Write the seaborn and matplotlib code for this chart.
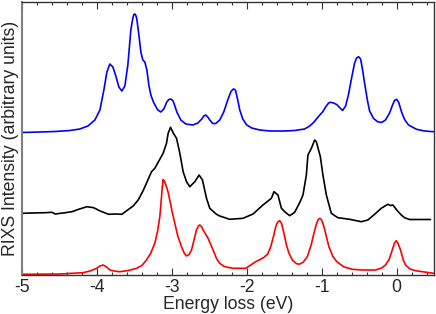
import matplotlib
matplotlib.use("Agg")
import matplotlib.pyplot as plt
import seaborn as sns
import pandas as pd
from matplotlib.ticker import MultipleLocator

# ---- data (arbitrary intensity units) ----
blue_x = [-5.000, -4.760, -4.560, -4.360, -4.227, -4.120, -4.027, -3.960, -3.907, -3.867,
          -3.827, -3.787, -3.747, -3.707, -3.667, -3.627, -3.587, -3.547, -3.520, -3.507,
          -3.493, -3.480, -3.467, -3.440, -3.413, -3.387, -3.360, -3.333, -3.307, -3.280,
          -3.240, -3.187, -3.147, -3.107, -3.067, -3.040, -3.013, -2.987, -2.973, -2.933,
          -2.880, -2.813, -2.720, -2.653, -2.600, -2.573, -2.547, -2.520, -2.493, -2.453,
          -2.413, -2.360, -2.307, -2.253, -2.213, -2.187, -2.173, -2.160, -2.147, -2.120,
          -2.093, -2.053, -2.000, -1.933, -1.827, -1.693, -1.493, -1.360, -1.227, -1.160,
          -1.107, -1.053, -1.013, -0.987, -0.947, -0.907, -0.880, -0.840, -0.800, -0.760,
          -0.720, -0.680, -0.640, -0.600, -0.560, -0.533, -0.507, -0.480, -0.453, -0.427,
          -0.387, -0.360, -0.307, -0.253, -0.200, -0.147, -0.093, -0.053, -0.027, 0.000,
          0.027, 0.067, 0.107, 0.160, 0.267, 0.373, 0.493]
blue_y = [142.5, 143.0, 143.5, 144.5, 146.0, 149.0, 155.0, 165.0, 185.0, 203.0,
          211.0, 208.0, 199.0, 188.0, 184.0, 189.0, 210.0, 245.0, 257.0, 260.5,
          261.0, 259.5, 256.0, 240.0, 223.0, 215.0, 213.0, 205.0, 190.0, 180.0,
          172.0, 165.0, 163.0, 166.0, 173.0, 175.5, 176.0, 174.5, 172.0, 163.0,
          155.0, 151.0, 150.0, 152.0, 156.0, 159.0, 160.0, 158.0, 155.0, 151.5,
          151.5, 155.0, 163.0, 175.0, 183.0, 185.5, 186.0, 185.5, 184.0, 175.0,
          165.0, 156.0, 150.0, 147.0, 145.0, 144.0, 144.0, 144.5, 146.0, 149.0,
          152.5, 157.5, 161.0, 163.0, 168.0, 172.0, 172.7, 172.0, 170.5, 167.5,
          164.5, 169.0, 181.0, 197.0, 212.0, 217.0, 218.3, 216.0, 205.0, 192.0,
          174.0, 164.0, 156.5, 153.3, 152.5, 155.0, 162.0, 170.0, 174.5, 175.7,
          173.0, 163.0, 155.5, 150.0, 145.7, 144.0, 143.3]

black_x = [-5.000, -4.867, -4.693, -4.600, -4.556, -4.423, -4.333, -4.244, -4.133, -4.044,
           -3.956, -3.844, -3.756, -3.667, -3.577, -3.516, -3.449, -3.383, -3.271, -3.227,
           -3.116, -3.071, -3.049, -3.017, -2.983, -2.937, -2.893, -2.849, -2.804, -2.760,
           -2.693, -2.636, -2.591, -2.537, -2.493, -2.404, -2.360, -2.227, -2.049, -1.916,
           -1.783, -1.671, -1.636, -1.583, -1.537, -1.493, -1.427, -1.360, -1.293, -1.249,
           -1.204, -1.183, -1.137, -1.093, -1.071, -1.017, -0.983, -0.937, -0.871, -0.783,
           -0.627, -0.471, -0.383, -0.293, -0.204, -0.116, -0.080, -0.049, 0.017, 0.063,
           0.107, 0.173, 0.453]
black_y = [61.7, 62.0, 62.3, 62.7, 61.0, 62.3, 63.3, 65.7, 68.3, 67.3,
           64.0, 60.7, 61.0, 60.7, 65.7, 69.0, 75.0, 84.3, 103.3, 106.7,
           121.7, 131.7, 141.7, 147.7, 142.3, 136.7, 121.7, 103.3, 93.3, 88.3,
           93.3, 100.0, 95.0, 76.7, 66.7, 60.7, 59.0, 55.7, 56.7, 61.0,
           70.0, 76.7, 83.3, 80.0, 66.7, 63.3, 59.3, 62.7, 72.3, 80.0,
           100.0, 120.0, 126.7, 135.0, 133.3, 118.3, 100.0, 80.0, 61.7, 57.3,
           55.7, 53.3, 55.0, 60.7, 66.7, 70.7, 69.5, 70.0, 63.7, 60.0,
           57.3, 55.5, 55.5]

red_x = [-5.000, -4.493, -4.183, -4.093, -4.040, -4.004, -3.960, -3.916, -3.870, -3.827,
         -3.760, -3.693, -3.580, -3.471, -3.400, -3.338, -3.280, -3.227, -3.190, -3.160,
         -3.140, -3.127, -3.116, -3.100, -3.085, -3.071, -3.050, -3.027, -2.995, -2.960,
         -2.920, -2.871, -2.835, -2.804, -2.770, -2.737, -2.700, -2.671, -2.645, -2.627,
         -2.605, -2.582, -2.550, -2.516, -2.449, -2.400, -2.360, -2.300, -2.191, -2.013,
         -1.880, -1.820, -1.769, -1.720, -1.680, -1.645, -1.613, -1.585, -1.560, -1.535,
         -1.503, -1.470, -1.436, -1.390, -1.340, -1.303, -1.250, -1.191, -1.140, -1.103,
         -1.070, -1.045, -1.023, -1.000, -0.969, -0.935, -0.903, -0.850, -0.800, -0.769,
         -0.700, -0.591, -0.450, -0.280, -0.200, -0.147, -0.100, -0.057, -0.030, -0.004,
         0.020, 0.053, 0.090, 0.120, 0.180, 0.253, 0.493]
red_y = [0.7, 1.0, 2.3, 4.0, 5.5, 6.7, 9.0, 10.0, 8.0, 5.0,
         3.8, 3.3, 4.5, 6.7, 9.5, 15.0, 22.0, 31.7, 44.0, 58.3,
         76.0, 88.0, 95.5, 94.0, 91.0, 88.0, 83.0, 75.0, 63.0, 51.7,
         39.0, 28.3, 22.0, 19.0, 20.5, 25.0, 36.0, 45.0, 49.0, 50.0,
         48.5, 45.0, 41.0, 36.7, 25.0, 16.0, 11.7, 8.5, 6.7, 6.7,
         13.3, 15.5, 17.7, 21.0, 28.3, 38.0, 48.3, 53.0, 54.3, 51.5,
         41.7, 30.0, 21.7, 15.0, 11.5, 10.7, 12.5, 18.3, 30.0, 41.7,
         51.0, 55.5, 56.7, 55.0, 48.3, 38.0, 28.3, 18.5, 13.5, 11.7,
         8.0, 5.7, 5.0, 5.0, 7.0, 10.0, 15.5, 25.0, 31.5, 34.3,
         31.5, 25.0, 15.0, 10.0, 6.0, 4.3, 1.7]

xticks = [-5, -4, -3, -2, -1, 0]
xtick_labels = ["-5", "-4", "-3", "-2", "-1", "0"]

# ---- plotting ----
sns.set_style("ticks")
plt.rcParams["font.family"] = ["Liberation Sans", "DejaVu Sans"]
plt.rcParams["axes.unicode_minus"] = False

fig = plt.figure(figsize=(4.36, 3.14), dpi=100)
ax = fig.add_axes([22 / 436, 39 / 314, 412 / 436, 273 / 314])

df_blue = pd.DataFrame({"x": blue_x, "y": blue_y})
df_black = pd.DataFrame({"x": black_x, "y": black_y})
df_red = pd.DataFrame({"x": red_x, "y": red_y})

sns.lineplot(data=df_blue, x="x", y="y", color="#0000ff", lw=1.2, ax=ax, sort=False)
sns.lineplot(data=df_black, x="x", y="y", color="#000000", lw=1.2, ax=ax, sort=False)
sns.lineplot(data=df_red, x="x", y="y", color="#ff0000", lw=1.2, ax=ax, sort=False)

ax.set_xlim(-5, 0.5)
ax.set_ylim(0, 273)
ax.set_yticks([])
ax.set_xticks(xticks)
ax.set_xticklabels(xtick_labels)
ax.xaxis.set_minor_locator(MultipleLocator(0.2))
ax.tick_params(axis="x", which="major", direction="in", length=5, width=0.8,
               top=True, bottom=True, labelsize=12.7, pad=3, color="#333333")
ax.tick_params(axis="x", which="minor", direction="in", length=2.5, width=0.8,
               top=True, bottom=True, color="#333333")
for side in ["left", "right", "top", "bottom"]:
    ax.spines[side].set_visible(True)
    ax.spines[side].set_linewidth(1.0)
ax.spines["left"].set_color("#808080")
ax.spines["left"].set_linewidth(1.5)
ax.spines["bottom"].set_color("#333333")
ax.spines["top"].set_color("#333333")
ax.spines["right"].set_color("#333333")

ax.set_xlabel("Energy loss (eV)", fontsize=12.7, labelpad=0)
ax.set_ylabel("RIXS Intensity (arbitrary units)", fontsize=12.7, labelpad=2)

fig.savefig("out.png", dpi=100)
